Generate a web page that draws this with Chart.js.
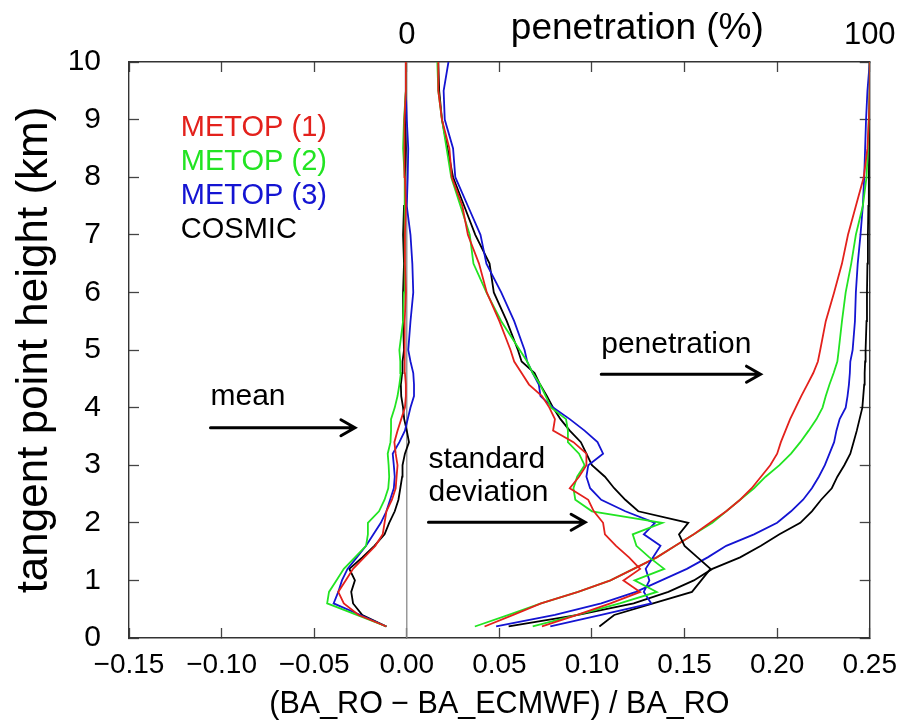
<!DOCTYPE html>
<html>
<head>
<meta charset="utf-8">
<script src="https://cdn.jsdelivr.net/npm/chart.js@4/dist/chart.umd.min.js"></script>
<style>
  html, body { margin: 0; padding: 0; background: #fff; }
</style>
</head>
<body>
<canvas id="my-chart" width="917" height="721" style="width:917px;height:721px;display:block"></canvas>
<script>
// tangent point heights (km) shared by every profile
const heights = [0.2, 0.4, 0.6, 0.8, 1.0, 1.2, 1.4, 1.6, 1.8, 2.0,
  2.2, 2.4, 2.6, 2.8, 3.0, 3.2, 3.4, 3.6, 3.8, 4.0,
  4.2, 4.4, 4.6, 4.8, 5.0, 5.5, 6.0, 6.5, 7.0, 7.5, 8.0, 8.5, 9.0, 9.5, 10.0];

const seriesNames = ['METOP (1)', 'METOP (2)', 'METOP (3)', 'COSMIC'];

// mean of (BA_RO - BA_ECMWF) / BA_RO
const meanM1 = [-0.011, -0.026, -0.034, -0.037, -0.033, -0.029, -0.023, -0.017, -0.013, -0.012,
  -0.011, -0.008, -0.006, -0.0055, -0.005, -0.006, -0.0067, -0.005, -0.003, -0.001,
  -0.0005, -0.0005, -0.001, -0.001, -0.0014, -0.001, -0.0005, -0.001, -0.001, -0.0005, -0.001, -0.0015, -0.001, -0.0005, -0.0005];
const meanM2 = [-0.011, -0.027, -0.043, -0.042, -0.038, -0.034, -0.028, -0.022, -0.021, -0.021,
  -0.015, -0.012, -0.010, -0.0095, -0.0098, -0.0103, -0.0088, -0.0085, -0.0085, -0.0065,
  -0.005, -0.004, -0.0032, -0.0035, -0.004, -0.002, -0.0015, -0.001, -0.0015, -0.001, -0.001, -0.002, -0.0015, -0.0005, -0.0005];
const meanM3 = [-0.011, -0.025, -0.0395, -0.037, -0.035, -0.032, -0.027, -0.022, -0.018, -0.014,
  -0.011, -0.009, -0.007, -0.0065, -0.007, -0.0076, -0.004, -0.001, 0.0005, 0.002,
  0.0039, 0.0039, 0.0035, 0.002, 0.0008, 0.002, 0.0035, 0.003, 0.002, 0.0, 0.0005, 0.0008, 0.0, -0.0005, -0.0005];
const meanCosmic = [-0.011, -0.024, -0.029, -0.030, -0.028, -0.031, -0.024, -0.0175, -0.012, -0.0095,
  -0.0065, -0.0045, -0.0035, -0.0025, -0.0023, -0.001, 0.0012, 0.0, -0.0014, -0.002,
  -0.003, -0.0032, -0.0025, -0.0023, -0.0015, -0.002, -0.002, -0.0015, -0.002, -0.0015, -0.001, -0.0005, -0.001, -0.0005, -0.0005];

// standard deviation
const stdM1 = [0.073, 0.092, 0.110, 0.126, 0.117, 0.126, 0.120, 0.113, 0.107, 0.106,
  0.101, 0.098, 0.088, 0.093, 0.097, 0.097, 0.090, 0.079, 0.080, 0.077,
  0.073, 0.066, 0.062, 0.058, 0.056, 0.050, 0.0432, 0.039, 0.033, 0.030, 0.0243, 0.023, 0.019, 0.017, 0.017];
const stdM2 = [0.068, 0.092, 0.115, 0.135, 0.123, 0.139, 0.131, 0.124, 0.122, 0.138,
  0.100, 0.091, 0.090, 0.092, 0.096, 0.093, 0.087, 0.087, 0.086, 0.078,
  0.075, 0.072, 0.068, 0.065, 0.061, 0.051, 0.043, 0.036, 0.034, 0.029, 0.024, 0.0215, 0.019, 0.017, 0.0165];
const stdM3 = [0.0775, 0.105, 0.132, 0.128, 0.131, 0.129, 0.133, 0.137, 0.128, 0.134,
  0.118, 0.105, 0.099, 0.097, 0.098, 0.106, 0.103, 0.096, 0.088, 0.079,
  0.0722, 0.0713, 0.068, 0.065, 0.0636, 0.058, 0.051, 0.043, 0.0398, 0.033, 0.0262, 0.025, 0.0205, 0.0199, 0.0225];
const stdCosmic = [0.104, 0.112, 0.133, 0.154, 0.159, 0.164, 0.157, 0.150, 0.147, 0.152,
  0.125, 0.118, 0.112, 0.107, 0.100, 0.097, 0.094, 0.088, 0.083, 0.079,
  0.0757, 0.072, 0.069, 0.062, 0.060, 0.054, 0.047, 0.0447, 0.037, 0.031, 0.025, 0.022, 0.019, 0.0175, 0.017];

// penetration (%) on the top axis
const penM1 = [16.8, 23, 29, 37, 44, 49, 54, 58, 62, 65.5,
  69, 72, 74.5, 76.5, 78.5, 80, 80.8, 81.8, 82.8, 84,
  85.2, 86.5, 87.8, 88.8, 89.3, 90.5, 92.3, 94, 95.3, 97, 98.7, 99.5, 99.8, 100, 100];
const penM2 = [14.7, 22, 29, 37, 44, 49, 54, 58, 62, 66,
  69, 72, 75, 77.5, 80.5, 83, 85, 86.8, 88.5, 89.8,
  90.5, 91.3, 92.2, 93, 93.3, 94, 94.8, 96, 97, 98.5, 99.3, 99.6, 99.8, 100, 100];
const penM3 = [19.3, 32, 42, 49.5, 55, 60.5, 65, 69, 75, 80,
  83, 85.6, 87.5, 89, 90.3, 91.3, 92.3, 92.8, 93.5, 94.8,
  95.2, 95.5, 95.7, 95.8, 96.3, 96.8, 97, 97.4, 98, 98.5, 98.8, 99, 99.2, 99.5, 100];
const penCosmic = [22, 37, 49, 56.5, 62, 66, 72, 76.5, 80.5, 85,
  87.5, 89.5, 91.8, 93, 94.5, 95.8, 96.5, 97.2, 97.8, 98.4,
  98.6, 98.8, 98.9, 99, 99.1, 99.3, 99.4, 99.5, 99.6, 99.7, 99.8, 99.9, 99.9, 100, 100];

const xTickLabels = ['\u22120.15', '\u22120.10', '\u22120.05', '0.00', '0.05', '0.10', '0.15', '0.20', '0.25'];
const yTickLabels = ['0', '1', '2', '3', '4', '5', '6', '7', '8', '9', '10'];
const topTickValues = [0, 100];
const topTickLabels = ['0', '100'];

const colors = ['#e3211c', '#22e422', '#1414d2', '#000000'];
const font = "'Liberation Sans', Arial, Helvetica, sans-serif";
const narrow = "'Liberation Sans Narrow', 'Liberation Sans', Arial, sans-serif";

const profile = (vals, axis, i) => ({
  data: heights.map((h, k) => ({ x: vals[k], y: h })),
  xAxisID: axis,
  borderColor: colors[i],
  borderWidth: 1.8,
  pointRadius: 0,
  showLine: true,
  fill: false
});

const datasets = [
  { data: [{ x: 0, y: 0 }, { x: 0, y: 10 }], borderColor: '#8a8a8a', borderWidth: 1.3, pointRadius: 0, showLine: true, order: 10 }
];
[meanM1, meanM2, meanM3, meanCosmic].forEach((v, i) => datasets.push(profile(v, 'x', i)));
[stdM1, stdM2, stdM3, stdCosmic].forEach((v, i) => datasets.push(profile(v, 'x', i)));
[penM1, penM2, penM3, penCosmic].forEach((v, i) => datasets.push(profile(v, 'xTop', i)));

// text labels with arrows, placed in data units
const notes = [
  { text: 'mean', x: -0.106, y: 4.18 },
  { text: 'standard', x: 0.0117, y: 3.09 },
  { text: 'deviation', x: 0.0117, y: 2.53 },
  { text: 'penetration', x: 0.105, y: 5.09 }
];
const arrows = [
  { x1: -0.106, x2: -0.028, y: 3.65 },
  { x1: 0.0117, x2: 0.0963, y: 2.01 },
  { x1: 0.105, x2: 0.191, y: 4.58 }
];

const notesPlugin = {
  id: 'notes',
  afterDatasetsDraw(chart) {
    const { ctx, scales: { x, y, xTop } } = chart;
    ctx.save();
    ctx.fillStyle = '#000';
    ctx.strokeStyle = '#000';
    ctx.textBaseline = 'middle';
    ctx.textAlign = 'left';
    ctx.font = `30px ${font}`;
    notes.forEach(n => ctx.fillText(n.text, x.getPixelForValue(n.x), y.getPixelForValue(n.y)));
    ctx.lineWidth = 3;
    ctx.lineCap = 'round';
    arrows.forEach(a => {
      const px1 = x.getPixelForValue(a.x1), px2 = x.getPixelForValue(a.x2), py = y.getPixelForValue(a.y);
      ctx.beginPath();
      ctx.moveTo(px1, py);
      ctx.lineTo(px2, py);
      ctx.moveTo(px2 - 14, py - 8);
      ctx.lineTo(px2, py);
      ctx.lineTo(px2 - 14, py + 8);
      ctx.stroke();
    });
    // coloured series names
    ctx.font = `29px ${font}`;
    const lx = x.getPixelForValue(-0.122), ly = y.getPixelForValue(8.85);
    seriesNames.forEach((s, i) => {
      ctx.fillStyle = colors[i];
      ctx.fillText(s, lx, ly + i * 34);
    });
    // top axis title, next to the 0 label
    ctx.fillStyle = '#000';
    ctx.textAlign = 'center';
    ctx.font = `37px ${font}`;
    ctx.fillText('penetration (%)', xTop.getPixelForValue(49.8), 29);
    ctx.restore();
  }
};

const xGrid = { drawOnChartArea: false, drawTicks: true, tickLength: -10, tickColor: '#444', tickWidth: 1.3 };
const frame = { display: true, color: '#333', width: 1.4 };
const noLabelPad = s => { s.paddingTop = 0; s.paddingBottom = 0; };

new Chart(document.getElementById('my-chart'), {
  type: 'scatter',
  data: { datasets },
  options: {
    responsive: false,
    animation: false,
    events: [],
    layout: { padding: 0 },
    plugins: { legend: { display: false }, tooltip: { enabled: false } },
    scales: {
      x: {
        type: 'linear', position: 'bottom', min: -0.15, max: 0.25,
        ticks: { stepSize: 0.05, padding: 20, color: '#000', font: { family: narrow, size: 28 }, callback: (v, i) => xTickLabels[i], maxRotation: 0 },
        grid: xGrid, border: frame,
        title: { display: true, text: '(BA_RO \u2212 BA_ECMWF) / BA_RO', color: '#000', font: { family: font, size: 30.5 }, padding: { top: 0, bottom: -2 } },
        afterFit: s => { s.height = 83; }
      },
      xTop: {
        type: 'linear', position: 'top', min: -60, max: 100,
        ticks: { stepSize: 20, padding: 18, color: '#000', font: { family: font, size: 31 }, maxRotation: 0,
          callback: v => { const k = topTickValues.indexOf(v); return k < 0 ? '' : topTickLabels[k]; } },
        grid: xGrid, border: frame,
        afterFit: s => { s.height = 62; }
      },
      y: {
        type: 'linear', position: 'left', min: 0, max: 10,
        ticks: { stepSize: 1, padding: 38, color: '#000', font: { family: narrow, size: 30 }, callback: (v, i) => yTickLabels[i] },
        grid: xGrid, border: frame,
        title: { display: true, text: 'tangent point height (km)', color: '#000', font: { family: font, size: 44 }, padding: { top: 8, bottom: 0 } },
        afterFit: s => { s.width = 129; noLabelPad(s); }
      },
      yRight: {
        type: 'linear', position: 'right', min: 0, max: 10,
        ticks: { stepSize: 1, callback: () => '' },
        grid: xGrid, border: frame,
        afterFit: s => { s.width = 36; noLabelPad(s); }
      }
    }
  },
  plugins: [notesPlugin]
});
</script>
</body>
</html>
